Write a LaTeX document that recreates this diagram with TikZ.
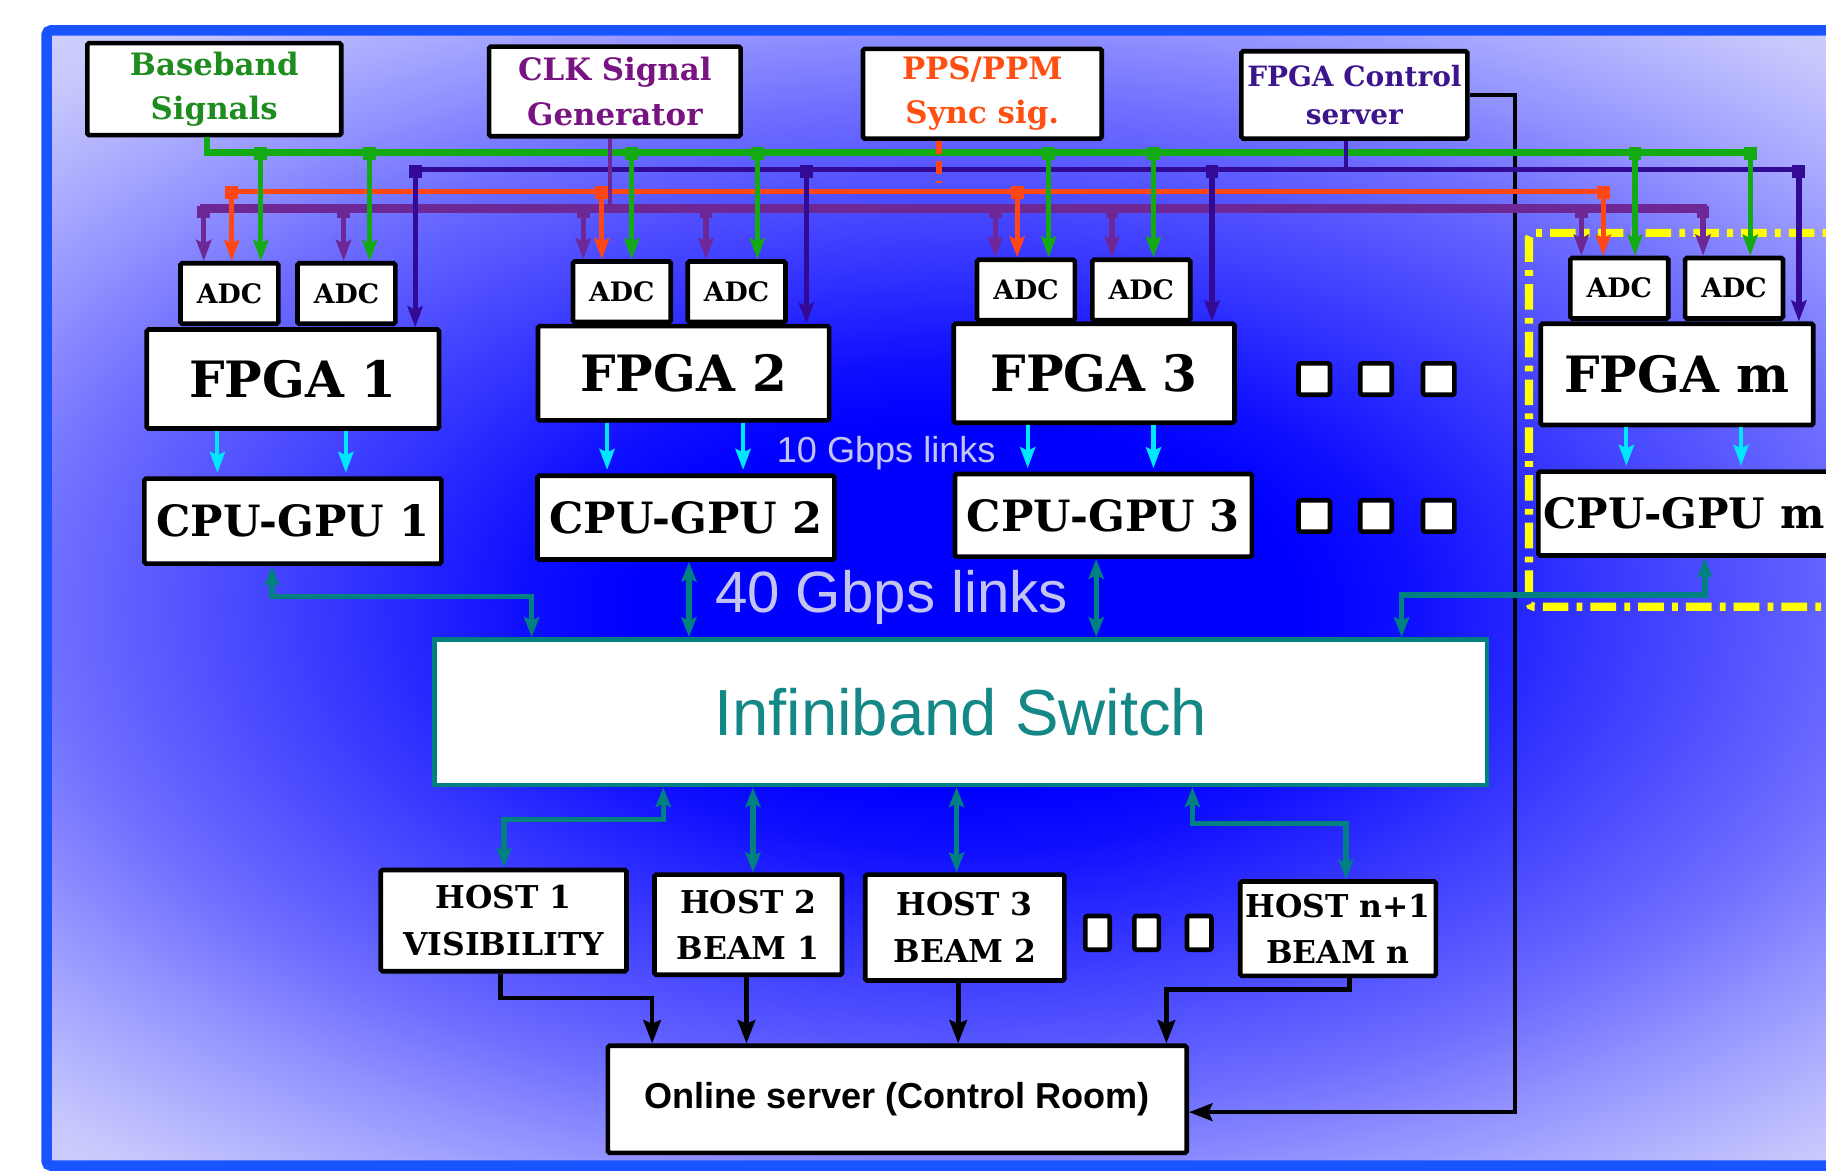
\documentclass[tikz,border=0pt]{standalone}
\usepackage{fontspec}
\setmainfont{DejaVu Serif}
\newfontfamily\lsans{Liberation Sans}
\usetikzlibrary{arrows.meta}
\definecolor{gbus}{RGB}{20,170,20}
\definecolor{ibus}{RGB}{50,10,150}
\definecolor{obus}{RGB}{255,70,20}
\definecolor{pbus}{RGB}{110,40,150}
\definecolor{tealc}{RGB}{0,128,128}
\definecolor{cyanc}{RGB}{0,230,255}
\definecolor{frameblue}{RGB}{25,85,255}
\definecolor{ylw}{RGB}{255,255,0}
\definecolor{gtext}{RGB}{30,140,30}
\definecolor{ptext}{RGB}{120,20,130}
\definecolor{otext}{RGB}{255,80,20}
\definecolor{itext}{RGB}{60,20,140}
\definecolor{swtext}{RGB}{20,135,135}
\definecolor{linktext}{RGB}{195,195,240}
\pgfdeclareradialshading{bgshade}{\pgfpoint{0bp}{0bp}}{%
 rgb(0bp)=(0,0,1); rgb(6bp)=(0,0,1); rgb(8bp)=(0.06,0.06,1); rgb(11bp)=(0.2,0.2,1);
 rgb(14bp)=(0.33,0.33,1); rgb(16.3bp)=(0.43,0.43,1); rgb(18.7bp)=(0.56,0.56,1); rgb(20.7bp)=(0.66,0.66,1);
 rgb(23.3bp)=(0.78,0.78,0.99); rgb(28bp)=(0.88,0.88,0.98); rgb(50bp)=(0.92,0.92,0.98)}
\newcommand\mk[3]{\fill[#1] (#2-5.5,#3-5.5) rectangle (#2+5.5,#3+5.5);}
\begin{document}
\begin{tikzpicture}[x=1pt,y=-1pt,
  box/.style={draw=black, line width=4pt, fill=white, rounded corners=1.5pt, inner sep=0pt, align=center},
  sig/.style={font=\bfseries\fontsize{26.5}{38}\selectfont},
  adcbox/.style={box, minimum width=84pt, minimum height=52pt, font=\bfseries\fontsize{23}{26}\selectfont},
  fpgabox/.style={box, font=\bfseries\fontsize{43}{48}\selectfont},
  cgbox/.style={box, font=\bfseries\fontsize{37}{42}\selectfont},
  hostbox/.style={box, font=\bfseries\fontsize{27}{40}\selectfont},
  sq/.style={draw=black, line width=4pt, fill=white, rounded corners=2pt, inner sep=0pt},
  tipa/.style={-{Stealth[length=18pt,width=13pt,inset=3pt]}},
  gl/.style={draw=gbus, line width=5.5pt},
  il/.style={draw=ibus, line width=5pt},
  ol/.style={draw=obus, line width=5pt},
  pl/.style={draw=pbus, line width=7.5pt},
  cy/.style={draw=cyanc, line width=3.5pt, -{Stealth[length=18pt,width=13pt,inset=3pt]}, shorten >=3pt},
  tl/.style={draw=tealc, line width=4.5pt, {Stealth[length=17pt,width=13pt,inset=3pt]}-{Stealth[length=17pt,width=13pt,inset=3pt]}},
  bk/.style={draw=black, line width=4pt, -{Stealth[length=20pt,width=15pt,inset=3pt]}},
]
\useasboundingbox (0,0) rectangle (1568,1005);
% background
\begin{scope}
  \clip (40,26) rectangle (1660,1001);
  \shade[shading=bgshade] (-370,-140) rectangle (2030,1180);
\end{scope}
\draw[frameblue, line width=9pt, rounded corners=4pt] (1680,26) -- (40,26) -- (40,1001) -- (1680,1001);
% yellow group
\draw[ylw, line width=7pt, dash pattern=on 22pt off 7pt on 5pt off 7pt, rounded corners=4pt]
  (1640,200) -- (1313,200) -- (1313,521) -- (1640,521);
% source boxes
\node[box, sig, text=gtext, minimum width=218pt, minimum height=79pt] (bb) at (184,76.5) {Baseband\\Signals};
\node[box, sig, text=ptext, minimum width=216pt, minimum height=77pt] (clk) at (528,78.5) {CLK Signal\\Generator};
\node[box, sig, text=otext, minimum width=205pt, minimum height=77pt] (pps) at (843.5,80.5) {PPS/PPM\\Sync sig.};
\node[box, font=\bfseries\fontsize{24}{33}\selectfont, text=itext, minimum width=194pt, minimum height=75pt] (ctl) at (1163,81.5) {FPGA Control\\server};
% ADCs
\node[adcbox] (adc1) at (197,252) {ADC};
\node[adcbox] (adc2) at (297.5,252) {ADC};
\node[adcbox] (adc3) at (534,250.5) {ADC};
\node[adcbox] (adc4) at (632.5,250.5) {ADC};
\node[adcbox] (adc5) at (881,249) {ADC};
\node[adcbox] (adc6) at (980,249) {ADC};
\node[adcbox] (adcm1) at (1390.5,247.5) {ADC};
\node[adcbox] (adcm2) at (1489,247.5) {ADC};
% FPGAs
\node[fpgabox, minimum width=251pt, minimum height=85pt] (fpga1) at (251.5,325.5) {FPGA 1};
\node[fpgabox, minimum width=250pt, minimum height=81pt] (fpga2) at (587,320.5) {FPGA 2};
\node[fpgabox, minimum width=241pt, minimum height=85pt] (fpga3) at (939.5,320.5) {FPGA 3};
\node[fpgabox, minimum width=234pt, minimum height=87pt] (fpgam) at (1440,321.5) {FPGA m};
% CPU-GPUs
\node[cgbox, minimum width=255pt, minimum height=73pt] (cg1) at (251.5,447.5) {CPU-GPU 1};
\node[cgbox, minimum width=255pt, minimum height=72pt] (cg2) at (589,444.5) {CPU-GPU 2};
\node[cgbox, minimum width=255pt, minimum height=71pt] (cg3) at (947.5,442.5) {CPU-GPU 3};
\node[cgbox, minimum width=250pt, minimum height=72pt, font=\bfseries\fontsize{36}{42}\selectfont] (cgm) at (1446,441) {CPU-GPU m};
% ellipsis squares
\node[sq, minimum size=27pt] (e1) at (1128.5,325.5) {};
\node[sq, minimum size=27pt] (e2) at (1181.6,325.5) {};
\node[sq, minimum size=27pt] (e3) at (1235.4,325.5) {};
\node[sq, minimum size=27pt] (e4) at (1128.5,443) {};
\node[sq, minimum size=27pt] (e5) at (1181.6,443) {};
\node[sq, minimum size=27pt] (e6) at (1235.4,443) {};
\node[sq, minimum width=21pt, minimum height=29pt] (e7) at (942.5,801) {};
\node[sq, minimum width=21pt, minimum height=29pt] (e8) at (984.6,801) {};
\node[sq, minimum width=21pt, minimum height=29pt] (e9) at (1029.8,801) {};
% switch
\node[draw=tealc, line width=4pt, fill=white, inner sep=0pt, minimum width=904pt, minimum height=125pt,
  text=swtext, font=\lsans\fontsize{56}{60}\selectfont] (sw) at (825,611.5) {Infiniband Switch};
% hosts
\node[hostbox, minimum width=211pt, minimum height=87pt] (h1) at (432.5,790.5) {HOST 1\\VISIBILITY};
\node[hostbox, minimum width=161pt, minimum height=86pt] (h2) at (642.5,794) {HOST 2\\BEAM 1};
\node[hostbox, minimum width=171pt, minimum height=91pt] (h3) at (828.5,796.5) {HOST 3\\BEAM 2};
\node[hostbox, minimum width=168pt, minimum height=81pt] (hn) at (1149,797.5) {HOST n+1\\BEAM n};
\node[box, minimum width=497pt, minimum height=92pt, font=\lsans\bfseries\fontsize{31}{36}\selectfont] (os) at (770.5,944) {Online server (Control Room)};
% link labels
\node[text=linktext, font=\lsans\fontsize{31}{34}\selectfont] (l10) at (761,389) {10 Gbps links};
\node[text=linktext, font=\lsans\fontsize{50}{54}\selectfont] (l40) at (765.5,513) {40 Gbps links};
% control line
\draw[bk] (ctl.east) -- (1301,0 |- ctl.east) -- (1301,955) -- (os.east |- 0,955);
% buses
\draw[gl] (178,0 |- bb.south) -- (178,131) -- (1503,131);
\draw[il, line width=3.5pt] (1155.6,0 |- ctl.south) -- (1155.6,145.5);
\draw[il] (356.5,145.5) -- (1544.7,145.5);
\draw[ol, dash pattern=on 11pt off 6pt] (806.5,0 |- pps.south) -- (806.5,157);
\draw[ol] (199,164.5) -- (1376.7,164.5);
\draw[pl, line width=3.5pt] (523.7,0 |- clk.south) -- (523.7,179);
\draw[pl] (171.5,179) -- (1466,179);
% drops: purple
\foreach \x/\t in {175/adc1,295/adc2,500.8/adc3,606.2/adc4,854.7/adc5,954.9/adc6,1357.9/adcm1,1462.4/adcm2}{
  \draw[pl, line width=4.5pt, tipa] (\x,179) -- (\x,0 |- \t.north);
  \mk{pbus}{\x}{182}
}
% drops: orange
\foreach \x/\t in {199/adc1,516.7/adc3,873.4/adc5,1376.7/adcm1}{
  \draw[ol, line width=4.5pt, tipa] (\x,164.5) -- (\x,0 |- \t.north);
  \mk{obus}{\x}{165}
}
% drops: green
\foreach \x/\t in {224/adc1,317.5/adc2,542.4/adc3,650.3/adc4,900.5/adc5,990.5/adc6,1404/adcm1,1502.9/adcm2}{
  \draw[gl, line width=4.5pt, tipa] (\x,131) -- (\x,0 |- \t.north);
  \mk{gbus}{\x}{132}
}
% drops: indigo
\foreach \x/\t in {356.5/fpga1,692.4/fpga2,1040.8/fpga3,1544.7/fpgam}{
  \draw[il, line width=4.5pt, tipa] (\x,145.5) -- (\x,0 |- \t.north);
  \mk{ibus}{\x}{147}
}
% 10 Gbps links
\foreach \x/\a/\b in {186.7/fpga1/cg1,297/fpga1/cg1,521.3/fpga2/cg2,638.1/fpga2/cg2,882.5/fpga3/cg3,990.5/fpga3/cg3,1396.6/fpgam/cgm,1495/fpgam/cgm}{
  \draw[cy] (\x,0 |- \a.south) -- (\x,0 |- \b.north);
}
% 40 Gbps links
\draw[tl] (233.6,0 |- cg1.south) -- (233.6,512.4) -- (456.6,512.4) -- (456.6,0 |- sw.north);
\draw[tl] (591.6,0 |- cg2.south) -- (591.6,0 |- sw.north);
\draw[tl] (941.3,0 |- cg3.south) -- (941.3,0 |- sw.north);
\draw[tl] (1464,0 |- cgm.south) -- (1464,511) -- (1203.6,511) -- (1203.6,0 |- sw.north);
\draw[tl] (569.5,0 |- sw.south) -- (569.5,704) -- (432.8,704) -- (432.8,0 |- h1.north);
\draw[tl] (646.6,0 |- sw.south) -- (646.6,0 |- h2.north);
\draw[tl] (821.4,0 |- sw.south) -- (821.4,0 |- h3.north);
\draw[tl] (1024,0 |- sw.south) -- (1024,707) -- (1155.8,707) -- (1155.8,0 |- hn.north);
% hosts to online server
\draw[bk] (429.8,0 |- h1.south) -- (429.8,857) -- (560,857) -- (560,0 |- os.north);
\draw[bk] (641,0 |- h2.south) -- (641,0 |- os.north);
\draw[bk] (822.8,0 |- h3.south) -- (822.8,0 |- os.north);
\draw[bk] (1158.8,0 |- hn.south) -- (1158.8,849.5) -- (1001.6,849.5) -- (1001.6,0 |- os.north);
\end{tikzpicture}
\end{document}
